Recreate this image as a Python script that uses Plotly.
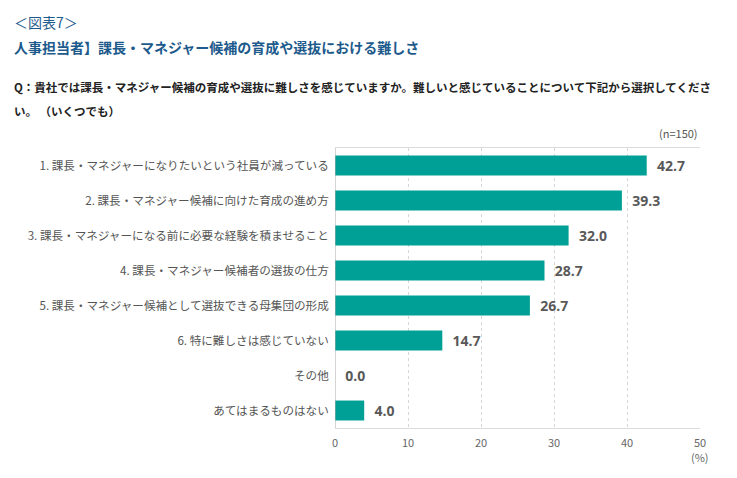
import plotly.graph_objects as go

categories = [
    "1. 課長・マネジャーになりたいという社員が減っている",
    "2. 課長・マネジャー候補に向けた育成の進め方",
    "3. 課長・マネジャーになる前に必要な経験を積ませること",
    "4. 課長・マネジャー候補者の選抜の仕方",
    "5. 課長・マネジャー候補として選抜できる母集団の形成",
    "6. 特に難しさは感じていない",
    "その他",
    "あてはまるものはない",
]
values = [42.7, 39.3, 32.0, 28.7, 26.7, 14.7, 0.0, 4.0]
tick_vals = [0, 10, 20, 30, 40, 50]

FONT = "Noto Sans CJK JP"
BLUE = "#1d5a8c"
TEAL = "#00a096"

# page body has an 8px margin; plot area spans screen x 335..700, y 148..428
fig = go.Figure(go.Bar(
    y=categories, x=values, orientation="h",
    marker=dict(color=TEAL, line=dict(width=0)),
    text=[f"  <b>{v:.1f}</b>" for v in values], textposition="outside",
    textfont=dict(family="Open Sans", size=14, color="#595959"),
    cliponaxis=False, hoverinfo="skip",
))

fig.update_layout(
    width=737, height=478,
    margin=dict(l=327, r=45, t=140, b=58),
    paper_bgcolor="white", plot_bgcolor="white",
    bargap=0.43, showlegend=False,
    font=dict(family=FONT, color="#555555"),
    xaxis=dict(range=[0, 50], tickvals=tick_vals, showgrid=True,
               gridcolor="#d6d6d6", griddash="3px,3px", gridwidth=1,
               zeroline=False, showline=True, linecolor="#dcdcdc", mirror=True,
               ticks="", ticklabelstandoff=5,
               tickfont=dict(size=11, color="#666666")),
    yaxis=dict(autorange="reversed", showgrid=False, ticks="",
               showline=False, ticksuffix="  ",
               tickfont=dict(size=11.6, color="#555555")),
    shapes=[dict(type="line", xref="x", yref="paper", x0=0, x1=0, y0=0, y1=1,
                 line=dict(color="#aaaaaa", width=1))],
)

def px_x(px):
    return (px - 335) / 365

def px_y(py):
    return 1 + (148 - py) / 280

anns = [
    dict(text="＜図表7＞", px=12, py=22, size=14, color=BLUE),
    dict(text="<b>人事担当者】課長・マネジャー候補の育成や選抜における難しさ</b>", px=12, py=47, size=14, color=BLUE),
    dict(text="<b>Q：貴社では課長・マネジャー候補の育成や選抜に難しさを感じていますか。難しいと感じていることについて下記から選択してくださ</b>", px=12, py=87, size=11.5, color="#222222"),
    dict(text="<b>い。 （いくつでも）</b>", px=12, py=111, size=11.5, color="#222222"),
]
layout_anns = []
for a in anns:
    layout_anns.append(dict(text=a["text"], xref="paper", yref="paper",
                            x=px_x(a["px"]), y=px_y(a["py"]),
                            xanchor="left", yanchor="middle", showarrow=False,
                            font=dict(family=FONT, size=a["size"], color=a["color"])))
layout_anns.append(dict(text="(n=150)", xref="paper", yref="paper", x=1, y=px_y(133),
                        xanchor="right", yanchor="middle", showarrow=False,
                        font=dict(family=FONT, size=11, color="#555555")))
layout_anns.append(dict(text="(%)", xref="paper", yref="paper", x=1, y=px_y(457),
                        xanchor="center", yanchor="middle", showarrow=False,
                        font=dict(family=FONT, size=11, color="#666666")))
fig.update_layout(annotations=layout_anns)

fig.write_html("out.html")
